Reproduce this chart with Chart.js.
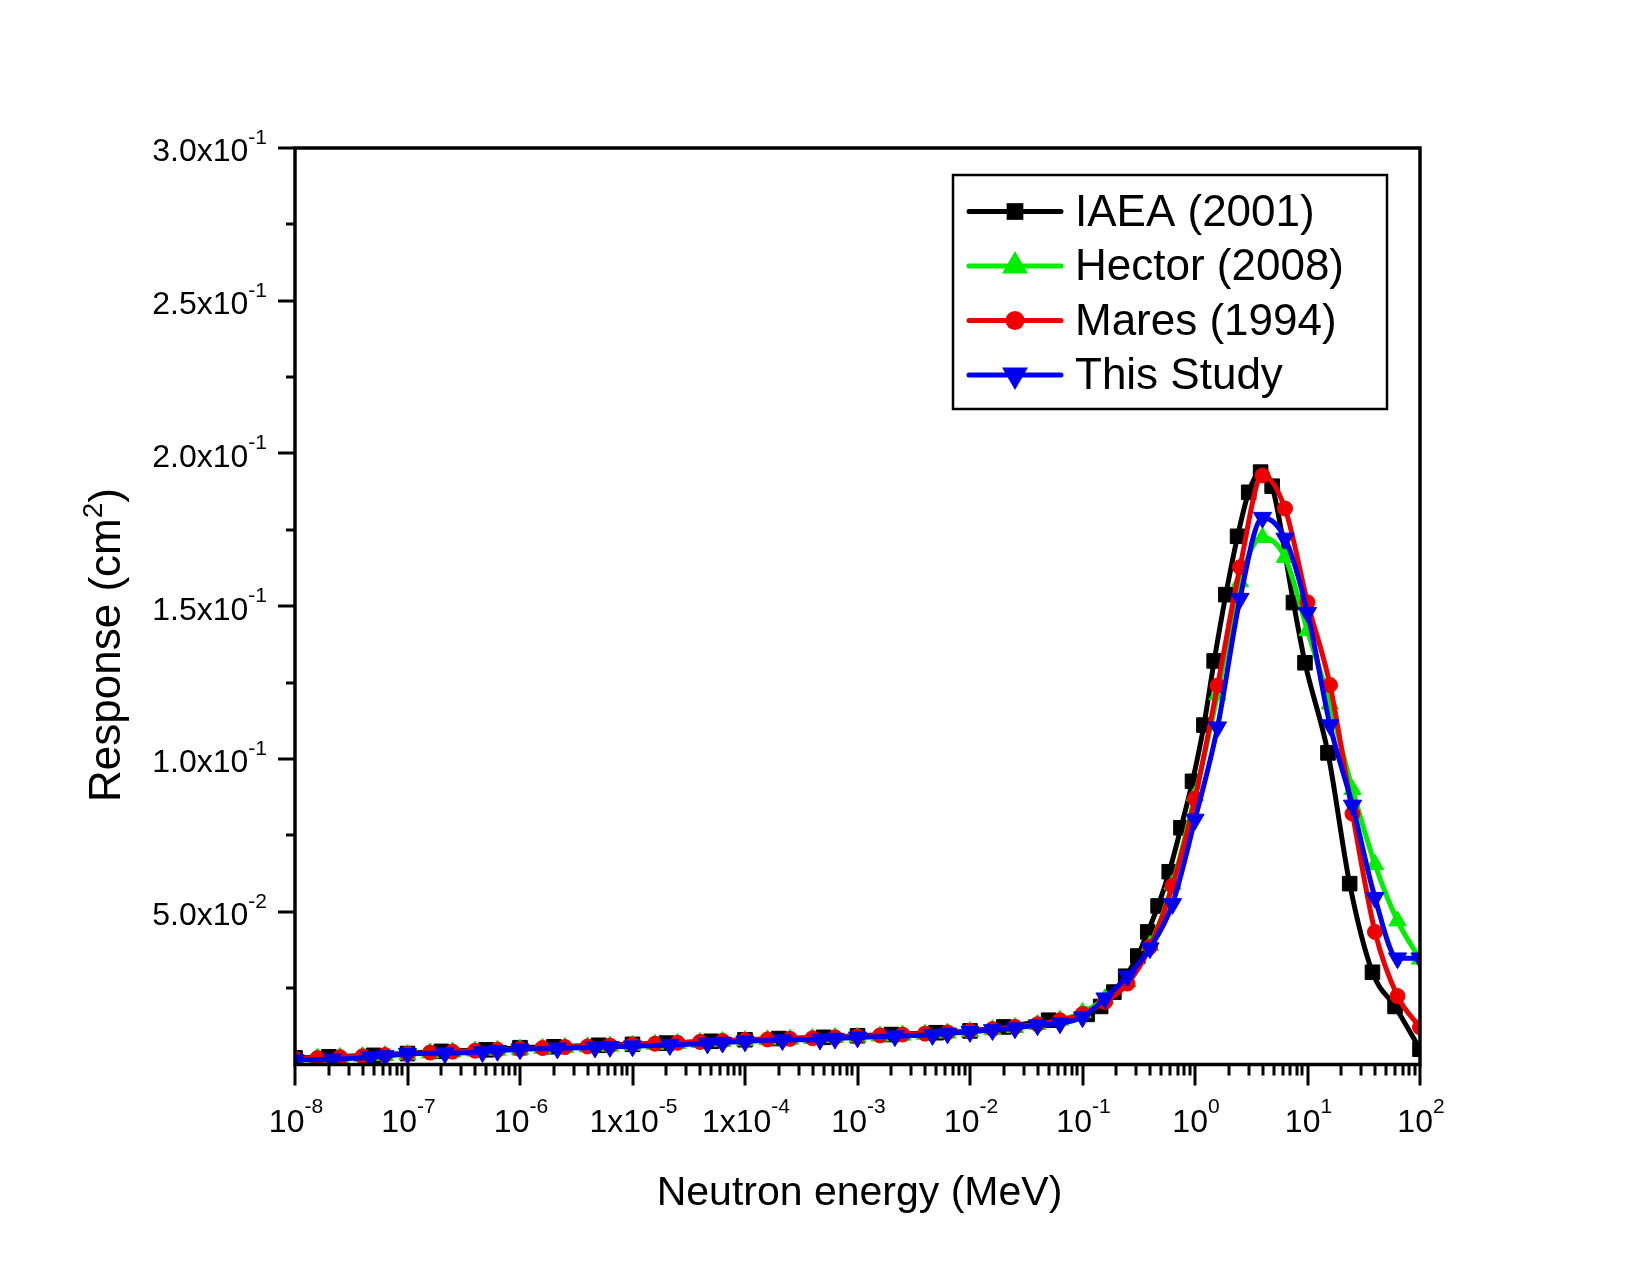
<!DOCTYPE html>
<html><head><meta charset="utf-8">
<script src="https://cdn.jsdelivr.net/npm/chart.js@4/dist/chart.umd.min.js"></script>
<style>html,body{margin:0;padding:0;background:#fff}canvas{display:block}</style>
</head><body>
<canvas id="c" width="1650" height="1275"></canvas>
<script>
// ---------------- data ----------------
const seriesNames = ['IAEA (2001)', 'Hector (2008)', 'Mares (1994)', 'This Study'];

const iaeaE = [1e-8, 2e-8, 5e-8, 1e-7, 2e-7, 5e-7, 1e-6, 2e-6, 5e-6, 1e-5, 2e-5, 5e-5,
  1e-4, 2e-4, 5e-4, 1e-3, 2e-3, 5e-3, 1e-2, 2e-2, 5e-2,
  0.11, 0.145, 0.19, 0.242, 0.31, 0.38, 0.47, 0.59, 0.75, 0.95, 1.2, 1.48, 1.88, 2.39,
  3.0, 3.83, 4.85, 7.5, 9.5, 15.2, 23.7, 37.8, 60, 100];
const iaeaR = [0.0022, 0.0025, 0.0030, 0.0036, 0.0043, 0.0048, 0.0055, 0.0058, 0.0063, 0.0066, 0.0070, 0.0076,
  0.0081, 0.0085, 0.0089, 0.0094, 0.0098, 0.0104, 0.0110, 0.0123, 0.0145,
  0.0164, 0.0190, 0.0237, 0.0289, 0.0355, 0.0434, 0.0519, 0.0631, 0.0775, 0.0927, 0.1111, 0.1321, 0.1538, 0.1729,
  0.1873, 0.1939, 0.1893, 0.1512, 0.1315, 0.1020, 0.0592, 0.0302, 0.0190, 0.0050];

const gridE = [1e-8, 1.585e-8, 2.512e-8, 3.981e-8, 6.31e-8,
  1e-7, 1.585e-7, 2.512e-7, 3.981e-7, 6.31e-7,
  1e-6, 1.585e-6, 2.512e-6, 3.981e-6, 6.31e-6,
  1e-5, 1.585e-5, 2.512e-5, 3.981e-5, 6.31e-5,
  1e-4, 1.585e-4, 2.512e-4, 3.981e-4, 6.31e-4,
  1e-3, 1.585e-3, 2.512e-3, 3.981e-3, 6.31e-3,
  1e-2, 1.585e-2, 2.512e-2, 3.981e-2, 6.31e-2,
  0.1, 0.1585, 0.2512, 0.3981, 0.631,
  1, 1.585, 2.512, 3.981, 6.31,
  10, 15.85, 25.12, 39.81, 63.1,
  100];
const hectorR = [0.0020, 0.0021, 0.0023, 0.0026, 0.0029, 0.0033, 0.0038, 0.0041, 0.0044, 0.0047,
  0.0050, 0.0053, 0.0056, 0.0058, 0.0060, 0.0063, 0.0066, 0.0069, 0.0072, 0.0075,
  0.0078, 0.0081, 0.0083, 0.0085, 0.0088, 0.0090, 0.0093, 0.0096, 0.0099, 0.0103,
  0.0108, 0.0114, 0.0121, 0.0131, 0.0145, 0.0170, 0.0215, 0.0270, 0.0390, 0.0590,
  0.0880, 0.1210, 0.1580, 0.1725, 0.1660, 0.1420, 0.1180, 0.0900, 0.0655, 0.0470,
  0.0345];
const maresR = [0.0019, 0.0021, 0.0024, 0.0027, 0.0031, 0.0035, 0.0039, 0.0042, 0.0045, 0.0048,
  0.0051, 0.0054, 0.0057, 0.0059, 0.0062, 0.0065, 0.0068, 0.0071, 0.0074, 0.0077,
  0.0080, 0.0082, 0.0084, 0.0086, 0.0089, 0.0092, 0.0095, 0.0098, 0.0101, 0.0105,
  0.0110, 0.0116, 0.0123, 0.0132, 0.0145, 0.0165, 0.0205, 0.0265, 0.0385, 0.0585,
  0.0870, 0.1240, 0.1628, 0.1928, 0.1820, 0.1513, 0.1242, 0.0821, 0.0434, 0.0224,
  0.0122];

const studyE = [1e-8, 2.15e-8, 4.64e-8, 6.31e-8, 1e-7, 2.15e-7, 4.64e-7, 6.31e-7,
  1e-6, 2.15e-6, 4.64e-6, 6.31e-6, 1e-5, 2.15e-5, 4.64e-5, 6.31e-5,
  1e-4, 2.15e-4, 4.64e-4, 6.31e-4, 1e-3, 2.15e-3, 4.64e-3, 6.31e-3,
  1e-2, 1.585e-2, 2.512e-2, 3.981e-2, 6.31e-2,
  0.1, 0.1585, 0.2512, 0.3981, 0.631,
  1, 1.585, 2.512, 3.981, 6.31,
  10, 15.85, 25.12, 39.81, 63.1, 100];
const studyR = [0.0015, 0.0017, 0.0024, 0.0028, 0.0035, 0.0037, 0.0041, 0.0045,
  0.0050, 0.0053, 0.0056, 0.0058, 0.0060, 0.0064, 0.0069, 0.0072,
  0.0076, 0.0080, 0.0082, 0.0085, 0.0089, 0.0093, 0.0097, 0.0102,
  0.0107, 0.0113, 0.0119, 0.0129, 0.0135,
  0.0155, 0.0217, 0.0289, 0.0381, 0.0526,
  0.0802, 0.1104, 0.1525, 0.1790, 0.1722,
  0.1479, 0.1111, 0.0848, 0.0546, 0.0348, 0.0348];

const xMajorTicks = [1e-8, 1e-7, 1e-6, 1e-5, 1e-4, 1e-3, 1e-2, 1e-1, 1, 10, 100];
const xTickBase = ['10', '10', '10', '1x10', '1x10', '10', '10', '10', '10', '10', '10'];
const xTickExp = ['-8', '-7', '-6', '-5', '-4', '-3', '-2', '-1', '0', '1', '2'];
const yMajorTicks = [0.05, 0.10, 0.15, 0.20, 0.25, 0.30];
const yMinorTicks = [0.025, 0.075, 0.125, 0.175, 0.225, 0.275];
const yTickBase = ['5.0x10', '1.0x10', '1.5x10', '2.0x10', '2.5x10', '3.0x10'];
const yTickExp = ['-2', '-1', '-1', '-1', '-1', '-1'];
const xTitle = 'Neutron energy (MeV)';
const yTitleParts = ['Response (cm', '2', ')'];

// ---------------- styling ----------------
const FONT = '"Liberation Sans", Arial, Helvetica, sans-serif';
const colors = ['#000000', '#00ee00', '#ee0000', '#0000ee'];
const styles = [
  {pointStyle: 'rect', radius: 10.3, rotation: 0, legendR: 11.8},
  {pointStyle: 'triangle', radius: 10, rotation: 0, legendR: 15},
  {pointStyle: 'circle', radius: 7.5, rotation: 0, legendR: 9.5},
  {pointStyle: 'triangle', radius: 10.5, rotation: 180, legendR: 15}
];
const xs = [iaeaE, gridE, gridE, studyE];
const ys = [iaeaR, hectorR, maresR, studyR];
const drawOrder = [4, 3, 2, 1];

const datasets = seriesNames.map((name, i) => ({
  label: name,
  data: xs[i].map((e, k) => ({x: e, y: ys[i][k]})),
  borderColor: colors[i],
  backgroundColor: colors[i],
  borderWidth: 5,
  pointStyle: styles[i].pointStyle,
  pointRadius: styles[i].radius,
  pointRotation: styles[i].rotation,
  pointBorderWidth: 1,
  pointBorderColor: colors[i],
  pointBackgroundColor: colors[i],
  cubicInterpolationMode: 'monotone',
  borderJoinStyle: 'round',
  borderCapStyle: 'round',
  order: drawOrder[i]
}));

function drawSup(ctx, base, exp, x, y, align, baseSize, expSize, rise) {
  ctx.font = baseSize + 'px ' + FONT;
  const wb = ctx.measureText(base).width;
  ctx.font = expSize + 'px ' + FONT;
  const we = ctx.measureText(exp).width;
  const total = wb + we;
  let start = x;
  if (align === 'center') start = x - total / 2;
  else if (align === 'right') start = x - total;
  ctx.textAlign = 'left';
  ctx.textBaseline = 'alphabetic';
  ctx.font = baseSize + 'px ' + FONT;
  ctx.fillText(base, start, y);
  ctx.font = expSize + 'px ' + FONT;
  ctx.fillText(exp, start + wb, y - rise);
}

function drawSymbol(ctx, style, r, rot, x, y, color) {
  ctx.fillStyle = color;
  ctx.beginPath();
  if (style === 'rect') {
    const s = r * Math.SQRT1_2;
    ctx.rect(x - s, y - s, 2 * s, 2 * s);
  } else if (style === 'circle') {
    ctx.arc(x, y, r, 0, Math.PI * 2);
  } else {
    const d = rot === 180 ? -1 : 1;
    ctx.moveTo(x, y - d * r);
    ctx.lineTo(x + 0.866 * r, y + d * 0.5 * r);
    ctx.lineTo(x - 0.866 * r, y + d * 0.5 * r);
    ctx.closePath();
  }
  ctx.fill();
}

const deco = {
  id: 'deco',
  beforeDraw(chart) {
    const ctx = chart.ctx;
    ctx.save();
    ctx.fillStyle = '#ffffff';
    ctx.fillRect(0, 0, chart.width, chart.height);
    ctx.restore();
  },
  afterDraw(chart) {
    const ctx = chart.ctx;
    const a = chart.chartArea;
    const xS = chart.scales.x, yS = chart.scales.y;
    ctx.save();
    ctx.strokeStyle = '#000';
    ctx.fillStyle = '#000';
    ctx.lineWidth = 3.5;
    ctx.lineCap = 'butt';
    // frame
    ctx.strokeRect(a.left, a.top, a.right - a.left, a.bottom - a.top);
    // x ticks
    ctx.lineWidth = 3;
    ctx.beginPath();
    xMajorTicks.forEach(v => {
      const p = Math.round(xS.getPixelForValue(v));
      ctx.moveTo(p, a.bottom); ctx.lineTo(p, a.bottom + 21);
    });
    for (let i = 0; i < xMajorTicks.length - 1; i++) {
      for (let m = 2; m <= 9; m++) {
        const p = Math.round(xS.getPixelForValue(xMajorTicks[i] * m));
        ctx.moveTo(p, a.bottom); ctx.lineTo(p, a.bottom + 11);
      }
    }
    // y ticks
    yMajorTicks.forEach(v => {
      const p = Math.round(yS.getPixelForValue(v));
      ctx.moveTo(a.left, p); ctx.lineTo(a.left - 17, p);
    });
    yMinorTicks.forEach(v => {
      const p = Math.round(yS.getPixelForValue(v));
      ctx.moveTo(a.left, p); ctx.lineTo(a.left - 9, p);
    });
    ctx.stroke();
    // tick labels
    ctx.fillStyle = '#000';
    xMajorTicks.forEach((v, i) => {
      const p = xS.getPixelForValue(v);
      drawSup(ctx, xTickBase[i], xTickExp[i], p + 1, a.bottom + 67, 'center', 32, 21, 18.5);
    });
    yMajorTicks.forEach((v, i) => {
      const p = yS.getPixelForValue(v);
      drawSup(ctx, yTickBase[i], yTickExp[i], a.left - 28, p + 13.3, 'right', 32, 21, 17.5);
    });
    // x title
    ctx.font = '41px ' + FONT;
    ctx.textAlign = 'center';
    ctx.textBaseline = 'alphabetic';
    ctx.fillText(xTitle, (a.left + a.right) / 2 + 2, 1205);
    // y title (rotated)
    ctx.save();
    ctx.translate(120, 645);
    ctx.rotate(-Math.PI / 2);
    ctx.font = '44px ' + FONT;
    const w1 = ctx.measureText(yTitleParts[0]).width;
    const w3 = ctx.measureText(yTitleParts[2]).width;
    ctx.font = '28px ' + FONT;
    const w2 = ctx.measureText(yTitleParts[1]).width;
    const tot = w1 + w2 + w3;
    let sx = -tot / 2;
    ctx.textAlign = 'left';
    ctx.font = '44px ' + FONT;
    ctx.fillText(yTitleParts[0], sx, 0);
    ctx.font = '28px ' + FONT;
    ctx.fillText(yTitleParts[1], sx + w1, -18);
    ctx.font = '44px ' + FONT;
    ctx.fillText(yTitleParts[2], sx + w1 + w2, 0);
    ctx.restore();
    // legend
    const bx = 953, by = 175, bw = 434, bh = 234;
    ctx.lineWidth = 2.5;
    ctx.strokeStyle = '#000';
    ctx.fillStyle = '#fff';
    ctx.fillRect(bx, by, bw, bh);
    ctx.strokeRect(bx, by, bw, bh);
    chart.data.datasets.forEach((ds, i) => {
      const ry = 211.5 + i * 54.5;
      ctx.strokeStyle = colors[i];
      ctx.lineWidth = 5;
      ctx.lineCap = 'round';
      ctx.beginPath();
      ctx.moveTo(969, ry); ctx.lineTo(1061, ry);
      ctx.stroke();
      drawSymbol(ctx, styles[i].pointStyle, styles[i].legendR, styles[i].rotation, 1015, ry, colors[i]);
      ctx.fillStyle = '#000';
      ctx.font = '44px ' + FONT;
      ctx.textAlign = 'left';
      ctx.textBaseline = 'alphabetic';
      ctx.fillText(ds.label, 1075, ry + 14);
    });
    ctx.restore();
  }
};

new Chart(document.getElementById('c'), {
  type: 'line',
  data: {datasets},
  options: {
    responsive: false,
    devicePixelRatio: 1,
    animation: false,
    events: [],
    layout: {padding: {left: 295, top: 148, right: 230, bottom: 210.5}},
    scales: {
      x: {type: 'logarithmic', min: 1e-8, max: 100, display: false},
      y: {type: 'linear', min: 0, max: 0.3, display: false}
    },
    plugins: {legend: {display: false}, tooltip: {enabled: false}, title: {display: false}}
  },
  plugins: [deco]
});
</script>
</body></html>
